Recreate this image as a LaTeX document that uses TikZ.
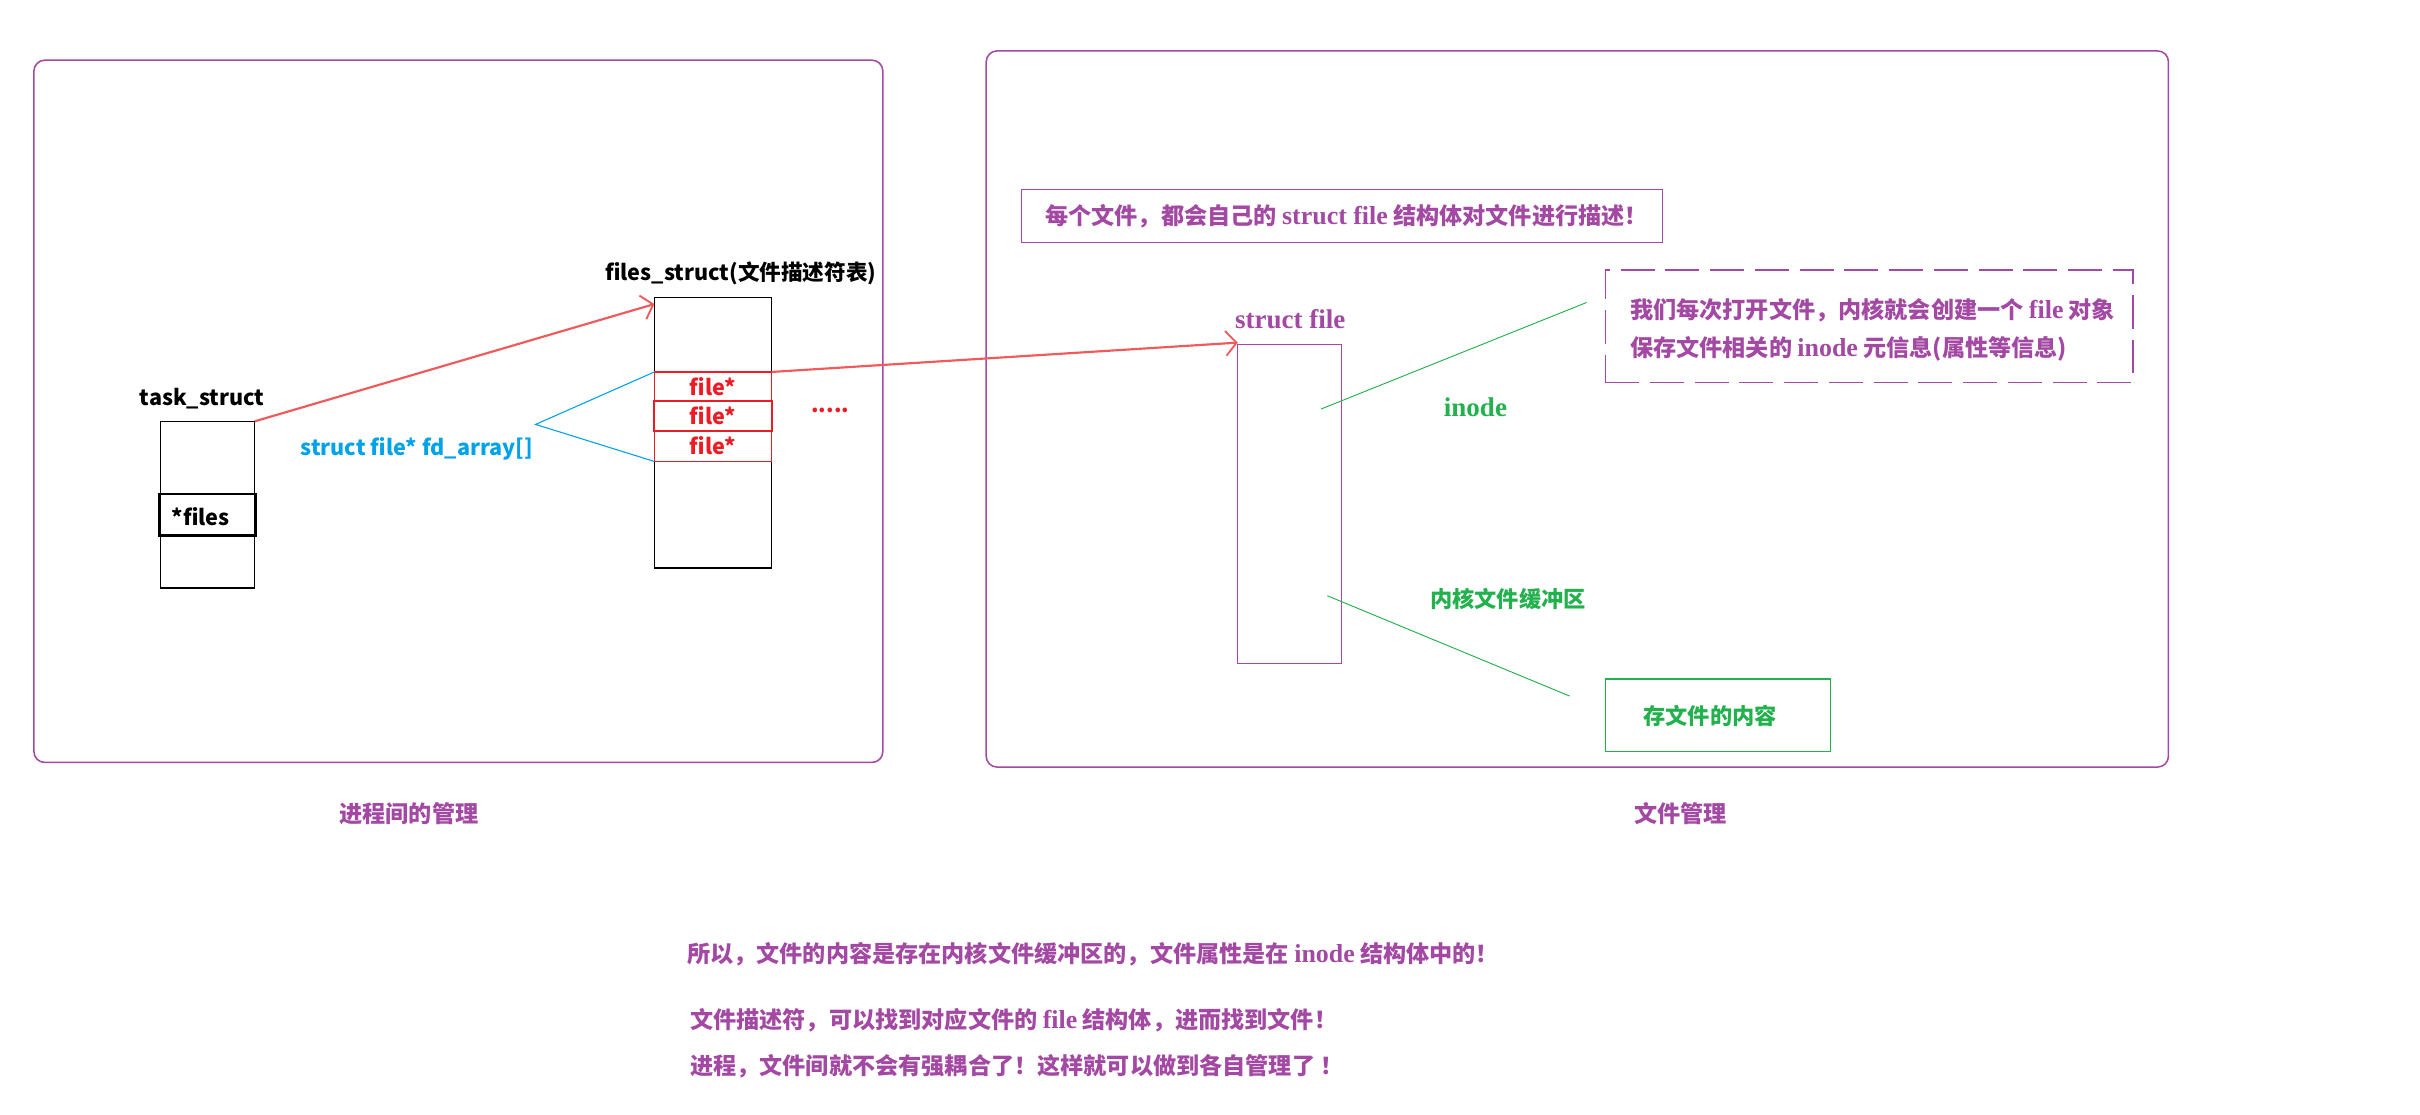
\documentclass[tikz,border=0pt]{standalone}
\usepackage{fontspec}
\usetikzlibrary{arrows.meta,calc}
\newfontfamily\cjk{Noto Sans CJK SC}
\newfontfamily\serf{Liberation Serif Bold}
\newcommand\sr[1]{{\serf\fontsize{16.8}{17}\selectfont #1}}
\definecolor{pp}{HTML}{A349A4}
\definecolor{rd}{HTML}{ED1C24}
\definecolor{ar}{HTML}{F05A5A}
\definecolor{bl}{HTML}{00A2E8}
\definecolor{gr}{HTML}{22B14C}
\tikzset{
  region/.style={draw=pp, line width=1pt, rounded corners=7pt, inner sep=0pt, outer sep=0pt, anchor=north west},
  box/.style={draw, line width=0.8pt, inner sep=0pt, outer sep=0pt, anchor=north west},
  ptxt/.style={font=\cjk\bfseries\fontsize{15}{17}\selectfont, text=pp, inner sep=0pt},
  gtxt/.style={font=\cjk\bfseries\fontsize{14.4}{17}\selectfont, text=gr, inner sep=0pt},
  stxt/.style={font=\cjk\bfseries\fontsize{14}{17}\selectfont, inner sep=0pt},
  sertxt/.style={font=\serf\fontsize{17.5}{19}\selectfont, inner sep=0pt},
  rarr/.style={draw=ar, line width=1.4pt, -{Straight Barb[length=7pt,width=16pt,line width=1.2pt]}},
  gline/.style={draw=gr, line width=0.6pt},
  bline/.style={draw=bl, line width=0.7pt}
}
\begin{document}
\begin{tikzpicture}[x=1pt,y=-1pt]
\useasboundingbox (0,0) rectangle (1568,722);
\fill[white] (0,0) rectangle (1568,722);
% big regions
\node[region, minimum width=550pt, minimum height=455pt] (lp) at (22,39) {};
\node[region, minimum width=766pt, minimum height=464pt] (rp) at (639,33) {};
\node[ptxt] (ltit) at (265,527) {进程间的管理};
\node[ptxt] (rtit) at (1089,527) {文件管理};
% task_struct
\node[box, minimum width=61pt, minimum height=108pt] (ts) at (104,273) {};
\node[stxt, anchor=base] (tsl) at (131,263) {task\_struct};
\node[box, line width=1.4pt, minimum width=63pt, minimum height=27pt] (fp) at (103,320) {};
\node[stxt, anchor=west] (fpl) at (111,335) {*files};
% files_struct
\node[box, minimum width=76pt, minimum height=175pt] (fs) at (424,193) {};
\node[stxt, anchor=base] (fsl) at (480,182) {files\_struct(文件描述符表)};
\node[box, draw=rd, minimum width=76pt, minimum height=18.5pt] (r1) at (424,241) {};
\node[box, draw=rd, line width=1.3pt, minimum width=76pt, minimum height=19.5pt] (r2) at (424,259.5) {};
\node[box, draw=rd, minimum width=76pt, minimum height=20pt] (r3) at (424,279) {};
\node[stxt, text=rd] (r1l) at (r1.center) {file*};
\node[stxt, text=rd] (r2l) at (r2.center) {file*};
\node[stxt, text=rd] (r3l) at (r3.center) {file*};
\node[stxt, text=rd] (dots) at (538,266) {.....};
% fd_array
\coordinate (apex) at (347,275);
\draw[bline] (r1.north west) -- (apex) -- (r3.south west);
\node[stxt, text=bl] (fdl) at (270,291) {struct file* fd\_array[]};
% struct file
\node[box, draw=pp, minimum width=67pt, minimum height=207pt] (sf) at (802,223) {};
\node[sertxt, text=pp] (sfl) at (836,207) {struct file};
% arrows
\draw[rarr] (ts.north east) -- ($(fs.north west)+(0,4)$);
\draw[rarr] (r1.north east) -- ($(sf.north west)+(0,-1)$);
% top note
\node[box, draw=pp, minimum width=415pt, minimum height=34pt] (tn) at (662,123) {};
\node[ptxt] (tnl) at ($(tn.center)+(3,0)$) {每个文件，都会自己的 \sr{struct file} 结构体对文件进行描述！};
% dashed note
\node[box, draw=pp, dash pattern=on 22pt off 7pt, minimum width=342pt, minimum height=73pt] (dn) at (1040,175) {};
\node[ptxt, anchor=west] (dn1) at (1056,201) {我们每次打开文件，内核就会创建一个 \sr{file} 对象};
\node[ptxt, anchor=west] (dn2) at (1056,226) {保存文件相关的 \sr{inode} 元信息(属性等信息)};
% green lines
\coordinate (g1a) at (856,265);
\coordinate (g1b) at (1028,196);
\coordinate (g2a) at (860,386);
\coordinate (g2b) at (1017,451);
\draw[gline] (g1a) -- (g1b);
\draw[gline] (g2a) -- (g2b);
\node[sertxt, text=gr] (inl) at (956,264) {inode};
\node[gtxt] (kbl) at (977,388) {内核文件缓冲区};
\node[box, draw=gr, minimum width=146pt, minimum height=47pt] (gb) at (1040,440) {};
\node[gtxt] (gbl) at (1108,464) {存文件的内容};
% bottom notes
\node[ptxt, anchor=west] (b1) at (445,618) {所以，文件的内容是存在内核文件缓冲区的，文件属性是在 \sr{inode} 结构体中的！};
\node[ptxt, anchor=west] (b2) at (447,661) {文件描述符，可以找到对应文件的 \sr{file} 结构体，进而找到文件！};
\node[ptxt, anchor=west] (b3) at (447,691) {进程，文件间就不会有强耦合了！这样就可以做到各自管理了 ！};
\end{tikzpicture}
\end{document}
